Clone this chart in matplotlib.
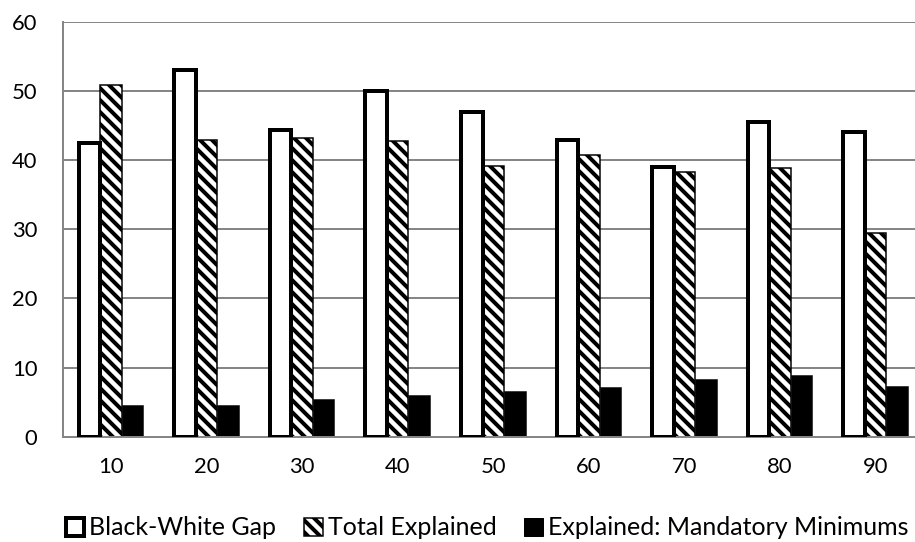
import numpy as np
import matplotlib
matplotlib.use("Agg")
from matplotlib import pyplot as plt
from matplotlib.patches import Patch

# percentile categories and the three series
percentiles = ["10", "20", "30", "40", "50", "60", "70", "80", "90"]
gap = [42.4, 53.0, 44.3, 50.0, 47.0, 42.9, 39.0, 45.5, 44.0]
total_explained = [50.9, 42.9, 43.2, 42.7, 39.2, 40.7, 38.2, 38.8, 29.4]
mandatory_min = [4.6, 4.6, 5.4, 6.0, 6.6, 7.2, 8.3, 8.9, 7.4]

# at 72 dpi one point is one pixel, which keeps the sizes below easy to reason about
DPI = 72
HATCH = "\\\\"
plt.rcParams["font.family"] = ["Lato", "DejaVu Sans"]
plt.rcParams["hatch.linewidth"] = 4.0

fig = plt.figure(figsize=(915 / DPI, 542 / DPI), dpi=DPI)
ax = fig.add_axes([63.3 / 915, 105.3 / 542, 860 / 915, 415 / 542])

x = np.arange(len(percentiles))
w = 0.225

ax.bar(x - w, gap, w, facecolor="white", edgecolor="black", linewidth=4, zorder=3)
ax.bar(x, total_explained, w, facecolor="white", edgecolor="black", linewidth=1.5,
       hatch=HATCH, zorder=2)
ax.bar(x + w, mandatory_min, w, facecolor="black", edgecolor="black", linewidth=0.5, zorder=2)

ax.set_xlim(-0.5, len(percentiles) - 0.5)
ax.set_ylim(0, 60)
ax.set_yticks(range(0, 61, 10))
ax.set_xticks(x)
ax.set_xticklabels(percentiles)

ax.set_axisbelow(True)
ax.yaxis.grid(True, color="#868686", linewidth=2)
for side in ["top", "right"]:
    ax.spines[side].set_visible(False)
for side in ["left", "bottom"]:
    ax.spines[side].set_color("#868686")
    ax.spines[side].set_linewidth(2)

ax.tick_params(axis="y", length=0, labelsize=22, pad=26)
ax.tick_params(axis="x", length=0, labelsize=22, pad=20)

handles = [
    Patch(facecolor="white", edgecolor="black", linewidth=4, label="Black-White Gap"),
    Patch(facecolor="white", edgecolor="black", linewidth=1.5, hatch=HATCH, label="Total Explained"),
    Patch(facecolor="black", edgecolor="black", label="Explained: Mandatory Minimums"),
]
fig.legend(handles=handles, loc="center", bbox_to_anchor=(0.532, 0.026), ncol=3,
           frameon=False, fontsize=25, handlelength=0.75, handleheight=0.75,
           handletextpad=0.2, columnspacing=1.1, borderpad=0)

fig.savefig("out.png", dpi=DPI)
